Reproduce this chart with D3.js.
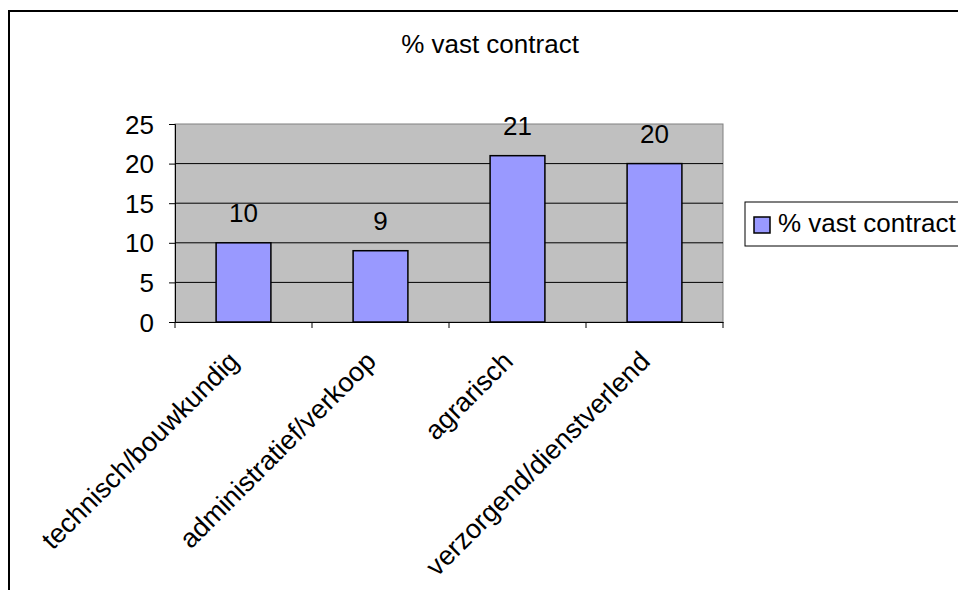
<!DOCTYPE html>
<html><head><meta charset="utf-8">
<script src="https://cdn.jsdelivr.net/npm/d3@7"></script>
<style>body{margin:0;background:#fff}svg{display:block}text{font-family:"Liberation Sans",Arial,sans-serif}</style>
</head><body><svg id="c" width="958" height="590"></svg>
<script>
const categories = ["technisch/bouwkundig","administratief/verkoop","agrarisch","verzorgend/dienstverlend"];
const values = [10, 9, 21, 20];
const yTicks = [0,5,10,15,20,25];
const seriesName = "% vast contract";
const title = "% vast contract";

const svg = d3.select("#c");
const W = 958, H = 590;
const FS = 26;
svg.append("rect").attr("x",9).attr("y",11).attr("width",W).attr("height",H).attr("fill","#fff").attr("stroke","#000").attr("stroke-width",2);

const L = 175, R = 723, T = 124, B = 322;
const x = d3.scaleBand().domain(categories).range([L,R]).paddingInner(0).paddingOuter(0);
const y = d3.scaleLinear().domain([0,25]).range([B,T]);

svg.append("rect").attr("x",L).attr("y",T).attr("width",R-L).attr("height",B-T).attr("fill","#c0c0c0").attr("stroke","#808080").attr("stroke-width",1);

svg.append("g").selectAll("line").data(yTicks.filter(d=>d>0&&d<25)).join("line")
  .attr("x1",L).attr("x2",R).attr("y1",d=>y(d)).attr("y2",d=>y(d)).attr("stroke","#000").attr("stroke-width",1);

const bw = x.bandwidth()*0.4;
svg.append("g").selectAll("rect").data(values).join("rect")
  .attr("x",(d,i)=>x(categories[i])+x.bandwidth()/2-bw/2)
  .attr("y",d=>y(d)).attr("width",bw).attr("height",d=>B-y(d))
  .attr("fill","#9999ff").attr("stroke","#000").attr("stroke-width",1.5);

svg.append("g").selectAll("text").data(values).join("text")
  .attr("x",(d,i)=>x(categories[i])+x.bandwidth()/2)
  .attr("y",d=>y(d)-21).attr("text-anchor","middle").attr("font-size",FS).text(d=>d);

const ya = svg.append("g").attr("transform",`translate(${L},0)`)
  .call(d3.axisLeft(y).tickValues(yTicks).tickSize(6).tickPadding(15));
ya.select(".domain").attr("stroke","#000");
ya.selectAll("text").attr("font-size",FS).attr("fill","#000").attr("dy","0.35em").style("font-family","Liberation Sans, Arial, sans-serif");
ya.selectAll("line").attr("stroke","#000");

const xa = svg.append("g").attr("transform",`translate(0,${B})`)
  .call(d3.axisBottom(x).tickSize(0).tickFormat(""));
xa.select(".domain").attr("stroke","#000");
svg.append("g").selectAll("line").data(d3.range(categories.length+1)).join("line")
  .attr("x1",i=>L+i*x.bandwidth()).attr("x2",i=>L+i*x.bandwidth()).attr("y1",B).attr("y2",B+6).attr("stroke","#000");

svg.append("g").selectAll("text").data(categories).join("text")
  .attr("transform",d=>`translate(${x(d)+x.bandwidth()/2-3},${B+41}) rotate(-45)`)
  .attr("text-anchor","end").attr("font-size",27).text(d=>d);

svg.append("text").attr("x",490).attr("y",53).attr("text-anchor","middle").attr("font-size",FS).text(title);

svg.append("rect").attr("x",745).attr("y",202).attr("width",240).attr("height",44).attr("fill","#fff").attr("stroke","#000").attr("stroke-width",1);
svg.append("rect").attr("x",754).attr("y",217).attr("width",16).attr("height",16).attr("fill","#9999ff").attr("stroke","#000").attr("stroke-width",1.5);
svg.append("text").attr("x",778).attr("y",232).attr("font-size",FS).text(seriesName);
</script></body></html>
